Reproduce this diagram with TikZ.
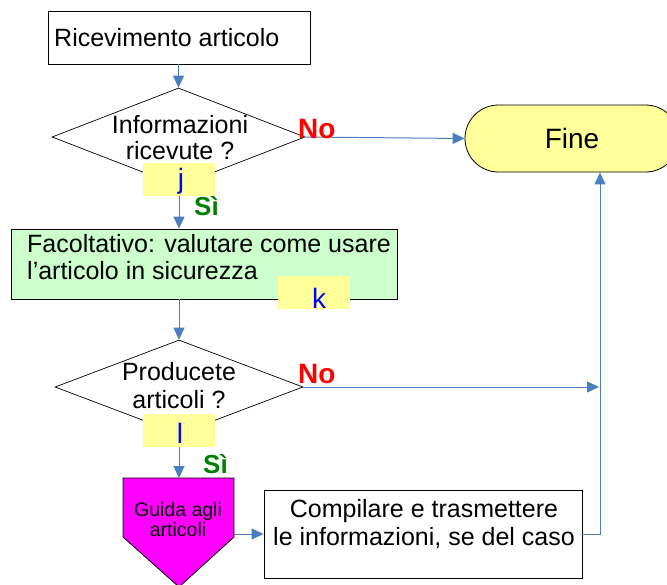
\documentclass[tikz,border=0pt]{standalone}
\usepackage{fontspec}
\setmainfont{Liberation Sans}
\usetikzlibrary{shapes.geometric,shapes.misc,arrows.meta}
\definecolor{connc}{RGB}{74,126,193}
\definecolor{ylw}{RGB}{255,255,153}
\definecolor{grn}{RGB}{204,255,204}
\definecolor{mag}{RGB}{255,0,255}
\definecolor{sigreen}{RGB}{0,128,0}
\begin{document}
\begin{tikzpicture}[x=1pt,y=-1pt,
  box/.style={draw=black,line width=0.8pt,inner sep=0pt},
  dia/.style={diamond,draw=black,line width=0.7pt,inner sep=0pt,fill=white},
  tag/.style={fill=ylw,inner sep=0pt,minimum width=72pt,minimum height=33pt},
  flow/.style={draw=connc,line width=1pt,-{Triangle[length=12pt,width=11pt]}},
  txt/.style={inner sep=0pt,font=\fontsize{25}{28}\selectfont},
  letter/.style={inner sep=0pt,text=blue,font=\fontsize{28}{30}\selectfont},
  nolab/.style={inner sep=0pt,text=red,font=\fontsize{28}{30}\selectfont\bfseries},
  silab/.style={inner sep=0pt,text=sigreen,font=\fontsize{26}{30}\selectfont\bfseries}
]
\useasboundingbox (0,0) rectangle (667,584);
\fill[white] (0,0) rectangle (667,584);

% shapes
\node[box,minimum width=262pt,minimum height=53pt] (rcv) at (179,37.5) {};
\node[txt,anchor=base west] (trcv) at (54,46.7) {Ricevimento articolo};

\node[dia,minimum width=253pt,minimum height=98pt] (d1) at (178.5,137) {};
\node[txt,align=center,anchor=north,font=\fontsize{25}{26}\selectfont] (td1) at (180,115) {Informazioni\\ricevute ?};

\node[rounded rectangle,draw=black,fill=ylw,line width=0.8pt,minimum width=214pt,minimum height=67pt,inner sep=0pt,font=\fontsize{28}{30}\selectfont] (fine) at (572,138.5) {Fine};

\node[box,fill=grn,minimum width=386pt,minimum height=70pt] (fac) at (204,264) {};
\node[txt,align=left,anchor=north west,font=\fontsize{25}{27}\selectfont] (tfac) at (27,234) {Facoltativo: valutare come usare\\l’articolo in sicurezza};

\node[dia,minimum width=248pt,minimum height=94pt] (d2) at (179,387) {};
\node[txt,align=center,anchor=north] (td2) at (179,362) {Producete\\articoli ?};

\coordinate (p1) at (123,478);
\coordinate (p2) at (234,478);
\coordinate (p3) at (234,537);
\coordinate (p4) at (179,587);
\coordinate (p5) at (123,537);
\coordinate (ptop) at (179,478);
\coordinate (pright) at (234,534);
\draw[fill=mag,line width=0.8pt] (p1) -- (p2) -- (p3) -- (p4) -- (p5) -- cycle;
\node[inner sep=0pt,align=center,anchor=north,font=\fontsize{19.5}{20}\selectfont] (gd) at (178,502) {Guida agli\\articoli};

\node[box,minimum width=318pt,minimum height=88pt] (cmp) at (423,534) {};
\node[txt,align=center,anchor=north] (tcmp) at (424,499) {Compilare e trasmettere\\le informazioni, se del caso};

\coordinate (mrg) at (600,387);

% connectors
\draw[flow] (rcv.south -| d1.north) -- (d1.north);
\draw[flow] (d1.east) -- (fine.west);
\draw[flow] (179,195) -- (fac.north -| 179,0);
\draw[flow] (fac.south -| d2.north) -- (d2.north);
\draw[flow] (d2.east) -- ([xshift=-1pt]mrg);
\draw[flow] (179,447) -- (ptop);
\draw[flow] (pright) -- (cmp.west);
\draw[flow] (cmp.east) -| (fine.south -| mrg);

% yellow tags
\node[tag] (tj) at (179,179) {};
\node[letter,anchor=base] (lj) at (181,188) {j};
\node[tag] (tk) at (314,292.5) {};
\node[letter,anchor=base] (lk) at (319,308) {k};
\node[tag] (tl) at (179,430.5) {};
\node[letter,anchor=base] (ll) at (180,443) {l};

% branch labels
\node[nolab,anchor=base west] (no1) at (298,138) {No};
\node[nolab,anchor=base west] (no2) at (298,383) {No};
\node[silab,anchor=base west] (si1) at (194,215) {Sì};
\node[silab,anchor=base west] (si2) at (203,473) {Sì};
\end{tikzpicture}
\end{document}
